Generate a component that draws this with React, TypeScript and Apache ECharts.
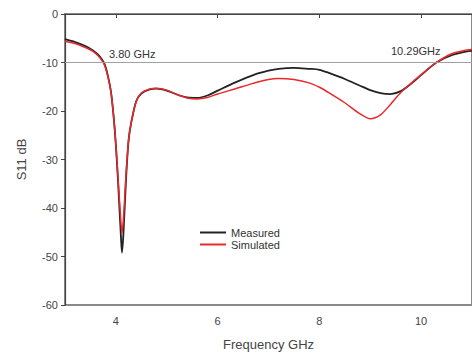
import React, { useEffect, useRef } from "react";
import * as echarts from "echarts";

const freqs = [3.0, 3.2, 3.4, 3.55, 3.65, 3.72, 3.78, 3.84, 3.9, 3.95, 4.0, 4.05, 4.1, 4.12, 4.15, 4.2, 4.25, 4.3, 4.4, 4.5, 4.65, 4.8, 5.0, 5.2, 5.4, 5.6, 5.8, 6.0, 6.35, 6.7, 7.0, 7.2, 7.5, 7.8, 8.0, 8.2, 8.5, 8.8, 9.0, 9.2, 9.4, 9.6, 9.8, 10.0, 10.3, 10.6, 10.9, 11.0];
const measured = [-5.2, -5.8, -6.6, -7.5, -8.4, -9.3, -10.4, -12.6, -15.8, -20.5, -27, -36, -46, -49.2, -45, -34, -26, -22.5, -18, -16.4, -15.6, -15.4, -15.8, -16.6, -17.2, -17.3, -16.8, -15.8, -14.1, -12.6, -11.7, -11.3, -11.1, -11.3, -11.5, -12.2, -13.4, -14.8, -15.7, -16.3, -16.5, -15.9, -14.4, -12.6, -10.0, -8.5, -7.7, -7.6];
const simulated = [-5.6, -6.1, -6.9, -7.7, -8.6, -9.5, -10.6, -12.8, -15.8, -20.5, -27, -35, -43, -45.1, -42, -33, -26, -22.5, -18, -16.3, -15.5, -15.3, -15.7, -16.6, -17.3, -17.5, -17.2, -16.5, -15.4, -14.3, -13.5, -13.3, -13.5, -14.2, -15.1, -16.3, -18.3, -20.6, -21.6, -20.8, -18.6, -16.2, -14.3, -12.5, -10.0, -8.2, -7.4, -7.3];
const xTicks = [4, 6, 8, 10];
const refLevel = -10;
const bandLabels = ["3.80 GHz", "10.29GHz"];
const seriesNames = ["Measured", "Simulated"];

export default function App() {
  const ref = useRef<HTMLDivElement>(null);
  useEffect(() => {
    if (!ref.current) return;
    const chart = echarts.init(ref.current, null, { renderer: "svg" });
    const font = "'Liberation Sans', Arial, sans-serif";
    chart.setOption({
      animation: false,
      textStyle: { fontFamily: font },
      grid: {
        left: 65,
        top: 14,
        width: 411,
        height: 294,
        show: true,
        borderColor: "#8a8a8a",
        borderWidth: 2,
      },
      legend: {
        orient: "vertical",
        left: 195,
        top: 222,
        itemWidth: 26,
        itemHeight: 2,
        itemGap: 1,
        icon: "rect",
        data: seriesNames,
        textStyle: { fontSize: 11, color: "#333", fontFamily: font },
      },
      xAxis: {
        type: "value",
        min: 3,
        max: 11,
        name: "Frequency GHz",
        nameLocation: "middle",
        nameGap: 33,
        nameTextStyle: { fontSize: 13, color: "#444", fontFamily: font },
        axisLine: { lineStyle: { color: "#444", width: 1.2 } },
        axisTick: { show: true, length: 4, customValues: xTicks, lineStyle: { color: "#444" } },
        axisLabel: { customValues: xTicks, fontSize: 11, color: "#444", margin: 10 },
        splitLine: { show: false },
      },
      yAxis: {
        type: "value",
        min: -60,
        max: 0,
        interval: 10,
        name: "S11 dB",
        nameLocation: "middle",
        nameGap: 37,
        nameTextStyle: { fontSize: 13, color: "#444", fontFamily: font },
        axisLine: { show: true, lineStyle: { color: "#444", width: 1.2 } },
        axisTick: { show: true, length: 4, lineStyle: { color: "#444" } },
        axisLabel: { fontSize: 11, color: "#444", margin: 7 },
        splitLine: { show: false },
      },
      series: [
        {
          name: seriesNames[0],
          type: "line",
          data: freqs.map((f, i) => [f, measured[i]]),
          showSymbol: false,
          smooth: 0.3,
          lineStyle: { color: "#222", width: 1.8 },
          itemStyle: { color: "#222" },
          markLine: {
            silent: true,
            symbol: "none",
            label: { show: false },
            lineStyle: { color: "#a0a0a0", width: 1, type: "solid" },
            data: [{ yAxis: refLevel }],
          },
          z: 2,
        },
        {
          name: seriesNames[1],
          type: "line",
          data: freqs.map((f, i) => [f, simulated[i]]),
          showSymbol: false,
          smooth: 0.3,
          lineStyle: { color: "#e8282b", width: 1.5 },
          itemStyle: { color: "#e8282b" },
          z: 3,
        },
      ],
      graphic: [
        { type: "text", left: 109, top: 48, style: { text: bandLabels[0], fontSize: 11, fill: "#333", fontFamily: font } },
        { type: "text", left: 391, top: 45, style: { text: bandLabels[1], fontSize: 11, fill: "#333", fontFamily: font } },
      ],
    });
    return () => chart.dispose();
  }, []);
  return (
    <div
      ref={ref}
      style={{ position: "fixed", left: 0, top: 0, width: 472, height: 356, background: "#fff" }}
    />
  );
}
